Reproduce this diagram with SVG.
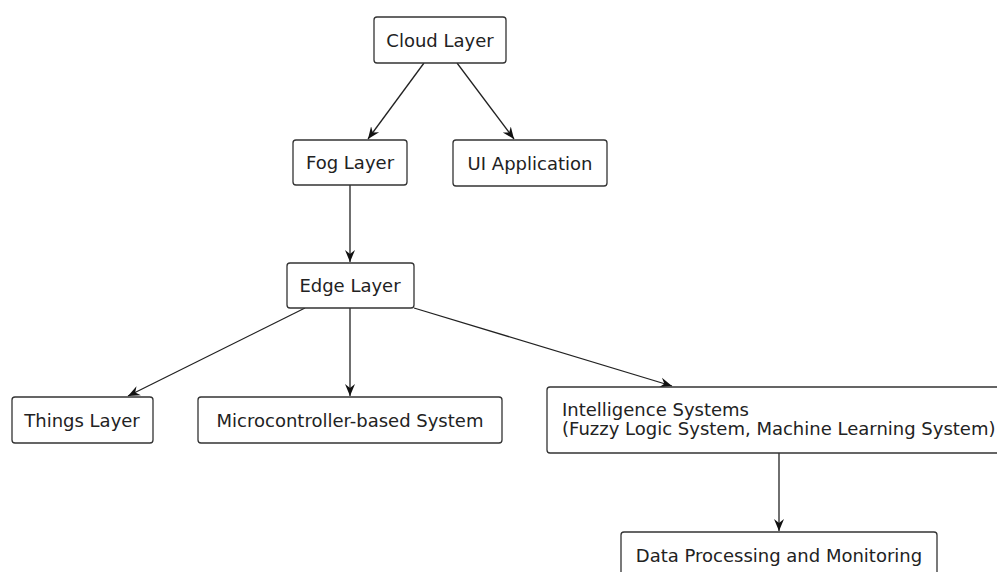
<svg xmlns="http://www.w3.org/2000/svg" width="997" height="572" viewBox="0 0 997 572">
  <defs>
    <style>
      .box { fill: #ffffff; stroke: #333333; stroke-width: 1.3; }
      .lbl { font-family: "DejaVu Sans", sans-serif; font-size: 18px; fill: #222222; }
      .mid { text-anchor: middle; }
      .edge { fill: none; stroke: #222222; stroke-width: 1.3; marker-end: url(#vee); }
    </style>
    <marker id="vee" markerUnits="userSpaceOnUse" markerWidth="14" markerHeight="14" refX="12" refY="7" orient="auto">
      <path d="M0,2 L12,7 L0,12 L4,7 Z" fill="#111111"/>
    </marker>
  </defs>
  <rect width="997" height="572" fill="#ffffff"/>

  <g id="connectors">
    <line class="edge" x1="424" y1="63" x2="368" y2="139"/>
    <line class="edge" x1="457" y1="63" x2="514" y2="139"/>
    <line class="edge" x1="350" y1="185" x2="350" y2="262"/>
    <line class="edge" x1="305" y1="308" x2="128" y2="396"/>
    <line class="edge" x1="350" y1="308" x2="350" y2="396"/>
    <line class="edge" x1="414" y1="308" x2="672" y2="386"/>
    <line class="edge" x1="779" y1="453" x2="779" y2="531"/>
  </g>

  <g id="cloud-layer">
    <rect class="box" x="374" y="17" width="132" height="46" rx="3"/>
    <text class="lbl mid" x="440" y="47">Cloud Layer</text>
  </g>
  <g id="fog-layer">
    <rect class="box" x="293" y="140" width="114" height="45" rx="3"/>
    <text class="lbl mid" x="350" y="169">Fog Layer</text>
  </g>
  <g id="ui-application">
    <rect class="box" x="453" y="140" width="154" height="46" rx="3"/>
    <text class="lbl mid" x="530" y="170">UI Application</text>
  </g>
  <g id="edge-layer">
    <rect class="box" x="287" y="263" width="127" height="45" rx="3"/>
    <text class="lbl mid" x="350" y="292">Edge Layer</text>
  </g>
  <g id="things-layer">
    <rect class="box" x="12" y="397" width="141" height="46" rx="3"/>
    <text class="lbl mid" x="82" y="427">Things Layer</text>
  </g>
  <g id="microcontroller-system">
    <rect class="box" x="198" y="397" width="304" height="46" rx="3"/>
    <text class="lbl mid" x="350" y="427">Microcontroller-based System</text>
  </g>
  <g id="intelligence-systems">
    <rect class="box" x="547" y="387" width="460" height="66" rx="3"/>
    <text class="lbl" x="562" y="416">Intelligence Systems</text>
    <text class="lbl" x="562" y="435">(Fuzzy Logic System, Machine Learning System)</text>
  </g>
  <g id="data-processing">
    <rect class="box" x="621" y="532" width="316" height="60" rx="3"/>
    <text class="lbl mid" x="779" y="562">Data Processing and Monitoring</text>
  </g>
</svg>
